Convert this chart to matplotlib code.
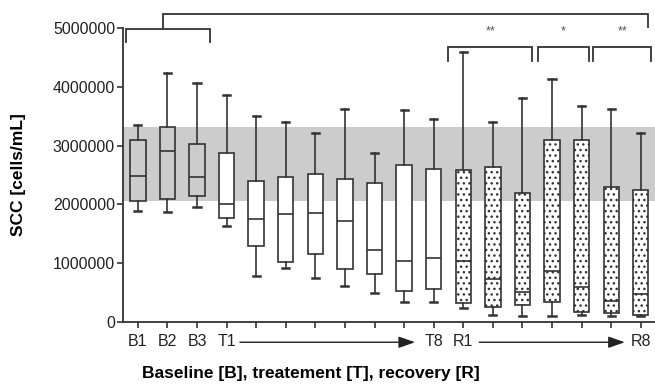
import matplotlib.pyplot as plt

plt.rcParams['font.family'] = ['Liberation Sans', 'DejaVu Sans']

# SCC box statistics per sampling day (cells/mL)
days = ['B1', 'B2', 'B3', 'T1', 'T2', 'T3', 'T4', 'T5', 'T6', 'T7', 'T8',
        'R1', 'R2', 'R3', 'R4', 'R5', 'R6', 'R8']
tick_labels = ['B1', 'B2', 'B3', 'T1', '', '', '', '', '', '', 'T8',
               'R1', '', '', '', '', '', 'R8']
whisker_hi = [3360000, 4230000, 4070000, 3860000, 3510000, 3400000, 3220000, 3620000, 2880000,
              3600000, 3460000, 4600000, 3400000, 3810000, 4130000, 3670000, 3630000, 3220000]
q3 = [3090000, 3310000, 3030000, 2870000, 2400000, 2460000, 2510000, 2430000, 2370000,
      2670000, 2610000, 2590000, 2640000, 2190000, 3100000, 3100000, 2290000, 2250000]
median = [2480000, 2910000, 2460000, 2000000, 1750000, 1830000, 1860000, 1720000, 1230000,
          1030000, 1090000, 1040000, 720000, 510000, 870000, 590000, 350000, 470000]
q1 = [2060000, 2090000, 2150000, 1760000, 1290000, 1020000, 1160000, 890000, 820000,
      530000, 560000, 320000, 250000, 280000, 330000, 170000, 150000, 110000]
whisker_lo = [1890000, 1870000, 1960000, 1630000, 780000, 910000, 740000, 610000, 490000,
              330000, 340000, 230000, 120000, 100000, 100000, 110000, 100000, 90000]
phase = ['B'] * 3 + ['T'] * 8 + ['R'] * 7

# baseline range shown as grey band
band_lo, band_hi = 2060000, 3310000

# significance brackets: (x start, x end, y, label)
sig_brackets = [(10.49, 13.33, 4680000, '**'),
                (13.51, 15.26, 4680000, '*'),
                (15.40, 17.35, 4680000, '**')]

line_col = '#333333'

fig = plt.figure(figsize=(6.55, 3.85), dpi=100)
ax = fig.add_axes([0.1883, 0.1644, 0.8117, 0.7621])

ax.axhspan(band_lo, band_hi, color='#cccccc', zorder=0, lw=0)

stats = []
for i in range(len(days)):
    stats.append({'label': tick_labels[i], 'med': median[i], 'q1': q1[i], 'q3': q3[i],
                  'whislo': whisker_lo[i], 'whishi': whisker_hi[i], 'fliers': []})

res = ax.bxp(stats, positions=range(len(days)), widths=0.52, capwidths=0.24,
             patch_artist=True, showfliers=False,
             boxprops=dict(edgecolor=line_col, linewidth=1.2),
             medianprops=dict(color=line_col, linewidth=1.2),
             whiskerprops=dict(color=line_col, linewidth=1.2),
             capprops=dict(color=line_col, linewidth=1.8))
plt.rcParams['hatch.linewidth'] = 1.0
for box, p in zip(res['boxes'], phase):
    if p == 'B':
        box.set_facecolor('none')
    elif p == 'T':
        box.set_facecolor('white')
    else:
        box.set_facecolor('white')
        box.set_hatch('...')

ax.set_xlim(-0.49, 17.48)
ax.set_ylim(0, 5000000)
ax.set_yticks([0, 1000000, 2000000, 3000000, 4000000, 5000000])
ax.set_yticklabels(['0', '1000000', '2000000', '3000000', '4000000', '5000000'])
ax.set_xticks(range(len(days)))
ax.set_xticklabels(tick_labels)
ax.tick_params(direction='out', length=4, width=1.2, color=line_col,
               labelsize=11.5, labelcolor='#222222', pad=2)
ax.tick_params(axis='x', pad=5)
for s in ['top', 'right']:
    ax.spines[s].set_visible(False)
for s in ['left', 'bottom']:
    ax.spines[s].set_linewidth(1.3)
    ax.spines[s].set_color(line_col)

# arrows between labelled ticks
trans = ax.get_xaxis_transform()
for x0, x1 in [(3.45, 9.37), (11.54, 16.46)]:
    ax.annotate('', xy=(x1, -0.07), xytext=(x0, -0.07), xycoords=trans, textcoords=trans,
                arrowprops=dict(arrowstyle='-|>,head_length=1.0,head_width=0.35',
                                color='#222222', lw=1.0, shrinkA=0, shrinkB=0))

# comparison brackets above plot
kw = dict(color=line_col, lw=1.3, clip_on=False, solid_joinstyle='miter')
ax.plot([-0.40, -0.40, 2.44, 2.44], [4770000, 4995000, 4995000, 4770000], **kw)
ax.plot([0.84, 0.84, 17.25, 17.25], [4995000, 5250000, 5250000, 5030000], **kw)
for x0, x1, y, lab in sig_brackets:
    ax.plot([x0, x0, x1, x1], [y - 230000, y, y, y - 230000], **kw)
    ax.text((x0 + x1) / 2, y + 270000, lab, ha='center', va='center',
            fontsize=9, color='#555555')

ax.set_ylabel('SCC [cells/mL]', fontsize=12.5, fontweight='bold', labelpad=19)
ax.set_xlabel('Baseline [B], treatement [T], recovery [R]', fontsize=12.5,
              fontweight='bold')
ax.xaxis.set_label_coords(0.353, -0.152)

fig.savefig('out.png', dpi=100)
